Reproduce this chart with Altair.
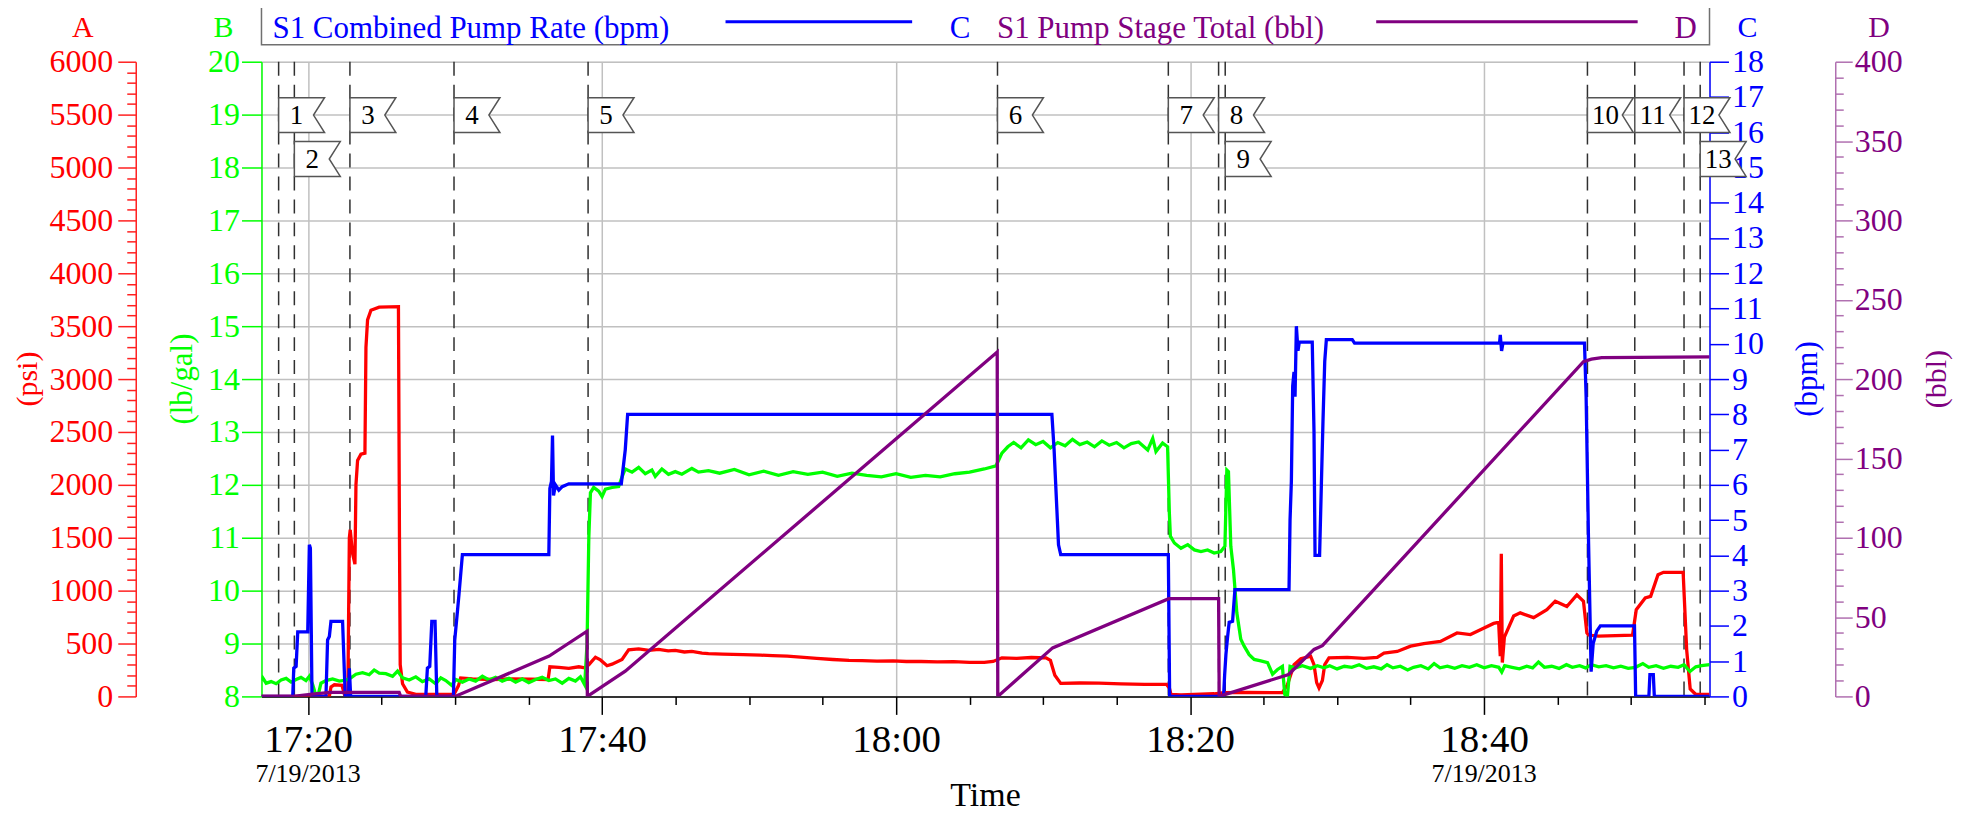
import altair as alt
import pandas as pd

SERIF = "Liberation Serif"
BASE = pd.Timestamp("2013-07-19 17:00:00")

# ---- data (time = minutes after 17:00) ----
pressure_t = [16.83, 21.45, 21.56, 21.79, 22.31, 22.47, 22.71, 22.81, 22.87, 23.03, 23.19, 23.26, 23.37, 23.60,
              23.87, 23.94, 24.05, 24.28, 24.84, 26.15, 26.22, 26.27, 26.43, 26.76, 27.33, 29.93, 30.23, 30.38,
              31.18, 32.53, 33.89, 36.33, 36.45, 37.06, 37.74, 38.42, 38.82, 39.10, 39.55, 39.89, 40.34, 40.68,
              41.36, 41.81, 42.49, 43.20, 43.85, 44.50, 44.98, 45.60, 46.11, 46.80, 47.24, 48.20, 49.60, 50.80,
              51.60, 52.60, 53.50, 54.60, 55.70, 56.80, 57.70, 58.70, 59.80, 60.70, 61.70, 62.80, 63.90, 65.00,
              66.00, 66.60, 67.20, 68.20, 69.20, 70.20, 70.50, 70.80, 71.20, 72.50, 73.80, 75.30, 76.90, 78.40,
              78.59, 78.70, 79.38, 81.64, 82.32, 83.91, 86.28, 86.62, 87.07, 87.53, 88.20, 88.43, 88.61, 88.77,
              89.00, 89.16, 89.45, 90.69, 91.83, 92.73, 93.19, 94.09, 95.00, 95.90, 97.03, 98.16, 99.07, 99.75,
              100.65, 100.99, 101.10, 101.17, 101.24, 101.38, 102.01, 102.46, 103.37, 104.27, 104.84, 105.63,
              106.31, 106.76, 106.99, 107.10, 107.79, 110.10, 110.35, 110.96, 111.33, 111.83, 112.20, 113.54,
              113.78, 114.02, 114.39, 115.34]
pressure_psi = [0, 0, 90, 110, 105, 20, 30, 1500, 1575, 1350, 1250, 2000, 2230, 2290,
                2300, 3300, 3560, 3650, 3680, 3685, 1500, 300, 120, 40, 20, 20, 100, 175,
                165, 160, 165, 160, 280, 275, 265, 280, 270, 300, 370, 345, 290, 305,
                350, 440, 450, 435, 445, 430, 435, 420, 425, 410, 405, 400, 396, 390,
                385, 380, 372, 360, 349, 340, 338, 333, 335, 330, 330, 326, 328, 322,
                321, 330, 365, 360, 368, 365, 340, 200, 123, 127, 125, 118, 113, 113,
                80, 20, 15, 25, 35, 38, 35, 110, 300, 355, 380, 300, 130, 80,
                150, 300, 365, 370, 360, 370, 410, 425, 475, 500, 520, 600, 585, 630,
                690, 700, 380, 1349, 320, 560, 760, 790, 745, 820, 900, 850,
                960, 900, 600, 580, 570, 580, 820, 930, 946, 1150, 1173, 1173,
                440, 70, 20, 20]

density_t = [16.83, 16.92, 17.15, 17.49, 17.83, 18.17, 18.51, 18.85, 19.19, 19.52, 19.86, 20.09, 20.32, 20.50,
             20.72, 20.88, 21.22, 21.67, 22.13, 22.58, 22.92, 23.26, 23.71, 24.16, 24.50, 24.84, 25.29, 25.75,
             26.09, 26.43, 26.88, 27.33, 27.78, 28.24, 28.69, 29.03, 29.37, 29.77, 30.05, 30.50, 30.95, 31.40,
             31.86, 32.31, 32.76, 33.21, 33.67, 34.12, 34.57, 35.02, 35.48, 35.93, 36.38, 36.83, 37.29, 37.74,
             38.19, 38.53, 38.82, 38.98, 39.10, 39.21, 39.43, 39.77, 40.00, 40.23, 40.68, 41.13, 41.36, 41.58,
             42.04, 42.49, 42.94, 43.39, 43.62, 44.07, 44.52, 44.98, 45.43, 46.11, 46.56, 47.24, 48.00, 49.00,
             50.00, 51.00, 52.00, 53.00, 54.00, 55.00, 56.00, 57.00, 58.00, 59.00, 60.00, 61.00, 62.00, 63.00,
             64.00, 65.00, 66.00, 66.80, 67.20, 67.60, 68.00, 68.50, 69.00, 69.50, 70.00, 70.50, 71.00, 71.50,
             72.00, 72.50, 73.00, 73.50, 74.00, 74.50, 75.00, 75.50, 76.00, 76.50, 77.12, 77.46, 77.68, 78.13,
             78.47, 78.59, 78.66, 78.93, 79.38, 79.84, 80.29, 80.74, 81.19, 81.64, 82.09, 82.37, 82.50, 82.61,
             82.77, 82.95, 83.18, 83.45, 83.68, 84.02, 84.36, 84.81, 85.27, 85.61, 85.95, 86.28, 86.44, 86.62,
             86.80, 87.19, 87.64, 88.20, 88.66, 89.11, 89.50, 90.00, 90.50, 91.00, 91.50, 92.00, 92.50, 93.00,
             93.40, 93.80, 94.30, 94.80, 95.20, 95.70, 96.20, 96.60, 97.00, 97.50, 98.00, 98.50, 99.00, 99.50,
             100.00, 100.50, 101.00, 101.20, 101.40, 101.90, 102.40, 102.90, 103.30, 103.70, 104.10, 104.60,
             105.10, 105.60, 106.00, 106.50, 106.90, 107.30, 107.80, 108.30, 108.80, 109.30, 109.80, 110.30,
             110.80, 111.20, 111.70, 112.20, 112.70, 113.20, 113.60, 114.00, 114.40, 114.80, 115.34]
density_ppg = [8.30, 8.35, 8.25, 8.28, 8.24, 8.31, 8.34, 8.27, 8.32, 8.36, 8.30, 8.38, 8.22, 8.05,
               8.06, 8.25, 8.30, 8.33, 8.29, 8.31, 8.35, 8.42, 8.45, 8.41, 8.50, 8.44, 8.43, 8.38,
               8.48, 8.35, 8.31, 8.37, 8.28, 8.33, 8.24, 8.35, 8.30, 8.21, 8.32, 8.27, 8.33, 8.29,
               8.38, 8.31, 8.36, 8.29, 8.34, 8.27, 8.33, 8.26, 8.32, 8.36, 8.30, 8.33, 8.25, 8.34,
               8.29, 8.37, 8.22, 9.00, 11.00, 11.85, 11.95, 11.88, 11.78, 11.92, 11.95, 11.97, 12.15, 12.30,
               12.24, 12.33, 12.21, 12.28, 12.16, 12.30, 12.20, 12.25, 12.20, 12.31, 12.24, 12.27, 12.22, 12.29,
               12.19, 12.26, 12.18, 12.25, 12.20, 12.24, 12.16, 12.22, 12.18, 12.15, 12.21, 12.14, 12.18, 12.15,
               12.21, 12.24, 12.30, 12.36, 12.60, 12.72, 12.80, 12.70, 12.85, 12.76, 12.82, 12.70, 12.80, 12.74,
               12.86, 12.76, 12.81, 12.72, 12.83, 12.75, 12.80, 12.70, 12.78, 12.81, 12.66, 12.88, 12.63, 12.79,
               12.72, 11.47, 11.03, 10.90, 10.80, 10.87, 10.77, 10.74, 10.77, 10.71, 10.74, 10.84, 12.28, 12.25,
               10.84, 10.40, 9.58, 9.08, 8.95, 8.79, 8.70, 8.67, 8.64, 8.42, 8.51, 8.57, 8.04, 8.00,
               8.57, 8.54, 8.58, 8.53, 8.58, 8.54, 8.58, 8.52, 8.57, 8.55, 8.60, 8.53, 8.56, 8.52,
               8.60, 8.54, 8.57, 8.50, 8.55, 8.58, 8.52, 8.62, 8.54, 8.57, 8.53, 8.58, 8.55, 8.60,
               8.54, 8.58, 8.55, 8.46, 8.58, 8.55, 8.52, 8.57, 8.54, 8.65, 8.55, 8.57,
               8.53, 8.60, 8.55, 8.58, 8.54, 8.60, 8.56, 8.58, 8.54, 8.57, 8.53, 8.55,
               8.62, 8.55, 8.58, 8.53, 8.57, 8.55, 8.60, 8.47, 8.56, 8.58, 8.60]

rate_t = [16.83, 18.96, 19.03, 19.19, 19.30, 19.98, 20.09, 20.16, 20.27, 21.22, 21.33, 21.45, 21.56, 22.35,
          22.53, 22.76, 22.81, 22.90, 28.01, 28.12, 28.28, 28.42, 28.64, 28.76, 29.89, 29.98, 30.16, 30.27,
          30.50, 36.38, 36.45, 36.56, 36.63, 36.70, 36.83, 37.06, 37.29, 37.74, 41.31, 41.47, 41.58, 41.74,
          70.60, 70.75, 71.05, 71.20, 78.52, 78.61, 82.28, 82.35, 82.44, 82.55, 82.66, 82.89, 83.05, 86.73,
          86.80, 86.89, 86.98, 87.07, 87.14, 87.23, 87.34, 87.43, 88.31, 88.43, 88.50, 88.81, 88.93, 89.04,
          89.16, 89.27, 91.03, 91.19, 101.05, 101.10, 101.19, 101.28, 106.83, 106.94, 107.10, 107.28, 107.42,
          107.66, 107.91, 110.23, 110.31, 111.21, 111.28, 111.51, 111.58, 115.34]
rate_bpm = [0, 0, 0.8, 0.85, 1.83, 1.83, 4.3, 4.2, 0, 0, 1.6, 1.7, 2.13, 2.13,
            0, 0, 0.8, 0, 0, 0.8, 0.85, 2.13, 2.13, 0, 0, 1.6, 2.4, 2.9,
            4.02, 4.02, 5.9, 6.1, 7.4, 5.7, 6.0, 5.85, 5.95, 6.03, 6.03, 6.6, 7.0, 8.0,
            8.0, 7.0, 4.3, 4.02, 4.02, 0, 0, 0.6, 1.2, 1.68, 2.1, 2.13, 3.03, 3.03,
            5.0, 6.1, 8.8, 9.2, 8.5, 10.5, 9.8, 10.05, 10.05, 7.5, 4.0, 4.0, 6.0, 7.8,
            9.5, 10.12, 10.12, 10.02, 10.02, 10.25, 9.8, 10.02, 10.02, 8.5, 4.5, 0.7, 1.5,
            1.85, 2.0, 2.0, 0, 0, 0.62, 0.62, 0, 0]

stage_t = [16.83, 19.00, 20.30, 21.50, 26.20, 26.30, 30.00, 36.40, 38.98, 39.00, 41.58, 66.88, 66.92,
           70.65, 78.55, 81.94, 81.98, 86.70, 88.43, 89.00, 106.76, 107.30, 108.00, 115.34]
stage_bbl = [0, 0, 1.5, 2.5, 2.5, 0, 0, 25.4, 41.1, 0, 15.9, 217, 0,
             30.6, 61.6, 61.6, 0, 13.8, 29.6, 32.0, 211, 212.5, 213.5, 214]

event_t = [18.00, 19.07, 22.85, 29.93, 39.05, 66.90, 78.52, 81.94, 82.39, 107.03, 110.25, 113.60, 114.70]
event_label = ["1", "2", "3", "4", "5", "6", "7", "8", "9", "10", "11", "12", "13"]
event_row = [1, 2, 1, 1, 1, 1, 1, 1, 2, 1, 1, 1, 2]

date_t = [20.0, 100.0]
date_text = ["7/19/2013", "7/19/2013"]


def times(t):
    return BASE + pd.to_timedelta(pd.Series(t, dtype=float), unit="min")


def frame(t, v):
    return pd.DataFrame({"time": times(t), "value": v})


events = pd.DataFrame({"time": times(event_t), "label": event_label, "row": event_row})
dates = pd.DataFrame({"time": times(date_t), "text": date_text})
one = pd.DataFrame({"k": [0]})


def dt(total_min, sec=0):
    return alt.DateTime(year=2013, month=7, date=19, hours=17 + total_min // 60,
                        minutes=total_min % 60, seconds=sec)


def cond(test, a, b):
    return {"condition": {"test": test, "value": a}, "value": b}


MAJ_X = "minutes(datum.value) % 20 === 0"
x_axis = alt.Axis(values=[dt(m) for m in range(20, 116, 5)], format="%H:%M",
                  labelExpr=f"{MAJ_X} ? datum.label : ''",
                  tickSize=cond(MAJ_X, 18, 8), tickColor="black", tickWidth=1.5,
                  domainColor="black", domainWidth=1.5,
                  grid=True, gridColor="#c0c0c0", gridWidth=1.5, gridOpacity=cond(MAJ_X, 1, 0),
                  labelFont=SERIF, labelFontSize=39, labelColor="black", labelPadding=6,
                  labelOverlap=False, labelFlush=False, title="")
X = alt.X("time:T", scale=alt.Scale(domain=[dt(16, 50), dt(115, 20)]), axis=x_axis)


def y_axis(orient, offset, values, test, lab_color, line_color, major, minor, pad, grid=False):
    kw = dict(orient=orient, offset=offset, values=values, format="d",
              labelExpr=f"{test} ? datum.label : ''",
              tickSize=cond(test, major, minor), tickColor=line_color, tickWidth=1.5,
              domainColor=line_color, domainWidth=1.5,
              labelFont=SERIF, labelFontSize=32, labelColor=lab_color, labelPadding=pad,
              labelOverlap=False, title="", grid=grid)
    if grid:
        kw.update(gridColor="#c0c0c0", gridWidth=1.5, gridOpacity=cond(test, 1, 0))
    return alt.Axis(**kw)


red_axis = y_axis("left", 126, list(range(0, 6001, 100)), "datum.value % 500 === 0",
                  "#ff0000", "#ff2020", 18, 9, 5)
green_axis = y_axis("left", 0, [8 + 0.25 * i for i in range(49)], "datum.value % 1 === 0",
                    "#00ff00", "#00ff00", 20, 9, 2, grid=True)
blue_axis = y_axis("right", 0, [0.25 * i for i in range(73)], "datum.value % 1 === 0",
                   "#0000ff", "#0000ff", 19, 8, 3)
purple_axis = y_axis("right", 126, list(range(0, 401, 10)), "datum.value % 50 === 0",
                     "#800080", "#b070b0", 17, 8, 2)


def series(t, v, color, dom, axis):
    return alt.Chart(frame(t, v)).mark_line(color=color, strokeWidth=3.3, clip=True).encode(
        x=X, y=alt.Y("value:Q", scale=alt.Scale(domain=dom, nice=False, zero=False), axis=axis))


rules = alt.Chart(events).mark_rule(color="#303030", strokeWidth=1.5, strokeDash=[14, 9]).encode(x=X)

FLAG = "M-1,-0.76L1,-0.76L0.52,0L1,0.76L-1,0.76Z"
ROW_Y = {1: 53.5, 2: 97.5}


def flags(row):
    base = alt.Chart(events).transform_filter(f"datum.row == {row}")
    shape = base.mark_point(shape=FLAG, size=2116, filled=True, fill="white", stroke="#555555",
                            strokeWidth=1.5, opacity=1, xOffset=23, clip=False).encode(
        x=X, y=alt.value(ROW_Y[row]))
    txt = base.mark_text(font=SERIF, fontSize=27, color="black", align="center", baseline="middle",
                         dx=18, dy=1).encode(x=X, y=alt.value(ROW_Y[row]), text="label:N")
    return [shape, txt]


def label(text, x, y, color, size, angle=0, align="center", baseline="alphabetic"):
    kw = dict(text=text, font=SERIF, fontSize=size, color=color, align=align, baseline=baseline)
    if angle:
        kw["angle"] = angle
    return alt.Chart(one).mark_text(**kw).encode(x=alt.value(x), y=alt.value(y))


def hline(x1, x2, y, color):
    return alt.Chart(one).mark_rule(color=color, strokeWidth=3).encode(
        x=alt.value(x1), x2=alt.value(x2), y=alt.value(y))


legend_box = alt.Chart(one).mark_rect(fillOpacity=0, stroke="#707070", strokeWidth=1.5).encode(
    x=alt.value(0), x2=alt.value(1451), y=alt.value(-80), y2=alt.value(-17))

date_labels = alt.Chart(dates).mark_text(font=SERIF, fontSize=26, color="black", baseline="middle").encode(
    x=X, y=alt.value(714), text="text:N")

layers = [
    rules,
    series(pressure_t, pressure_psi, "#ff0000", [0, 6000], red_axis),
    series(density_t, density_ppg, "#00ff00", [8, 20], green_axis),
    series(rate_t, rate_bpm, "#0000ff", [0, 18], blue_axis),
    series(stage_t, stage_bbl, "#800080", [0, 400], purple_axis),
    *flags(1), *flags(2),
    date_labels,
    legend_box,
    label("S1 Combined Pump Rate (bpm)", 11, -24, "#0000ff", 31, align="left"),
    hline(465, 652, -40, "#0000ff"),
    label("C", 700, -24, "#0000ff", 31),
    label("S1 Pump Stage Total (bbl)", 737, -24, "#800080", 31, align="left"),
    hline(1117, 1379, -40, "#800080"),
    label("D", 1427, -24, "#800080", 31),
    label("A", -179, -25, "#ff0000", 30),
    label("B", -38, -25, "#00ff00", 30),
    label("C", 1489, -25, "#0000ff", 30),
    label("D", 1621, -25, "#800080", 30),
    label("(psi)", -234, 318, "#ff0000", 30, angle=270, baseline="middle"),
    label("(lb/gal)", -79, 318, "#00ff00", 31, angle=270, baseline="middle"),
    label("(bpm)", 1550, 318, "#0000ff", 31, angle=270, baseline="middle"),
    label("(bbl)", 1679, 318, "#800080", 30, angle=270, baseline="middle"),
    label("Time", 725.5, 736, "black", 34, baseline="middle"),
]

chart = alt.layer(*layers).resolve_scale(y="independent").properties(
    width=1451, height=636,
    autosize=alt.AutoSizeParams(type="none"),
    padding={"left": 254, "top": 53, "right": 248, "bottom": 116},
).configure_view(stroke="black", strokeWidth=1.5).configure(font=SERIF)

chart.save("out.html", embed_options={"renderer": "svg", "actions": False})
